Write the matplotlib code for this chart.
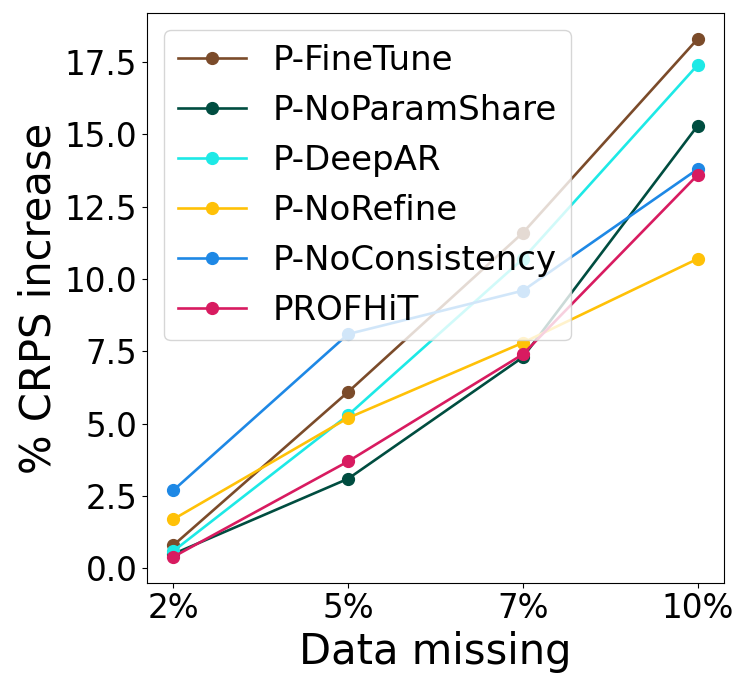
import matplotlib
matplotlib.use("Agg")
import matplotlib.pyplot as plt

# data
missing = ["2%", "5%", "7%", "10%"]
finetune = [0.8, 6.1, 11.6, 18.3]
noparamshare = [0.5, 3.1, 7.3, 15.3]
deepar = [0.6, 5.3, 10.7, 17.4]
norefine = [1.7, 5.2, 7.8, 10.7]
noconsistency = [2.7, 8.1, 9.6, 13.8]
profhit = [0.4, 3.7, 7.4, 13.6]

names = ["P-FineTune", "P-NoParamShare", "P-DeepAR", "P-NoRefine",
         "P-NoConsistency", "PROFHiT"]
series = [finetune, noparamshare, deepar, norefine, noconsistency, profhit]
colors = ["#7B4B2A", "#004D40", "#1DE9E6", "#FFC107", "#1E88E5", "#D81B60"]

fig = plt.figure(figsize=(7.47, 6.88), dpi=100)
ax = fig.add_axes([0.197, 0.153, 0.772, 0.828])

x = range(len(missing))
for name, vals, c in zip(names, series, colors):
    ax.plot(x, vals, marker="o", color=c, lw=1.9, markersize=8.5, label=name)

ax.set_xticks(list(x))
ax.set_xticklabels(missing)
ax.tick_params(labelsize=23.5)
ax.set_xlabel("Data missing", fontsize=30)
ax.set_ylabel("% CRPS increase", fontsize=30)
ax.legend(loc="upper left", fontsize=24.5)

fig.savefig("out.png", dpi=100)
